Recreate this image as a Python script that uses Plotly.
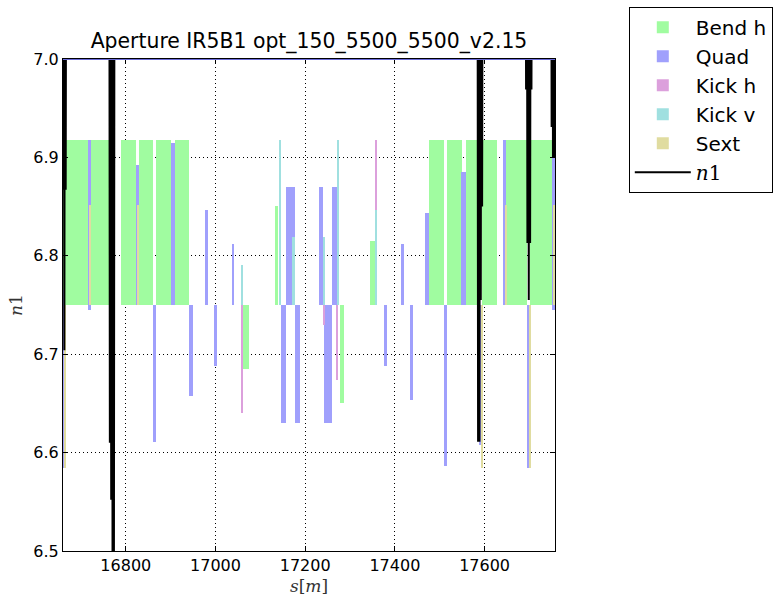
import plotly.graph_objects as go

# ---------------- data (s in metres, aperture levels) ----------------
bend_s0 = [16661, 16722, 16790, 16830, 16868, 16909, 17061, 17132, 17277, 17345, 17477, 17516, 17558, 17595, 17648, 17701]
bend_s1 = [16715, 16763, 16822, 16861, 16900, 16941, 17074, 17139, 17286, 17359, 17509, 17549, 17589, 17627, 17695, 17752]
bend_lo = [6.75, 6.75, 6.75, 6.75, 6.75, 6.75, 6.685, 6.75, 6.650, 6.75, 6.75, 6.75, 6.75, 6.75, 6.75, 6.75]
bend_hi = [6.918, 6.918, 6.918, 6.918, 6.918, 6.918, 6.75, 6.851, 6.75, 6.815, 6.918, 6.918, 6.918, 6.918, 6.918, 6.918]

quad_s0 = [16660, 16715, 16822, 16861, 16900, 16940, 16976, 16997, 17036, 17145, 17158, 17178, 17231,
           17243, 17260, 17376, 17413, 17433, 17468, 17509, 17548, 17588, 17641, 17695, 17750]
quad_s1 = [16665, 16722, 16830, 16868, 16909, 16950, 16983, 17004, 17041, 17158, 17177, 17188, 17240,
           17260, 17273, 17382, 17420, 17440, 17477, 17516, 17558, 17593, 17648, 17703, 17757]
quad_lo = [6.584, 6.745, 6.75, 6.611, 6.75, 6.658, 6.75, 6.688, 6.75, 6.63, 6.75, 6.63, 6.75,
           6.63, 6.75, 6.688, 6.75, 6.653, 6.75, 6.5865, 6.75, 6.608, 6.75, 6.584, 6.745]
quad_hi = [6.765, 6.918, 6.892, 6.75, 6.9145, 6.75, 6.847, 6.75, 6.812, 6.75, 6.870, 6.75, 6.870,
           6.75, 6.870, 6.75, 6.812, 6.75, 6.843, 6.75, 6.885, 6.75, 6.918, 6.75, 6.918]

kickh_s0 = [17058, 17240, 17269.5, 17355.5]
kickh_s1 = [17061.5, 17244.5, 17273.5, 17360.5]
kickh_lo = [6.64, 6.73, 6.674, 6.75]
kickh_hi = [6.75, 6.75, 6.75, 6.918]

kickv_s0 = [17057, 17141.5, 17171.5, 17240, 17271, 17355.5]
kickv_s1 = [17061.5, 17147, 17176.5, 17245, 17275.5, 17360.5]
kickv_lo = [6.75, 6.75, 6.75, 6.75, 6.75, 6.75]
kickv_hi = [6.791, 6.918, 6.8195, 6.8195, 6.918, 6.847]

sext_s0 = [16663, 16718.5, 16826, 17591, 17644.5, 17700, 17751.5]
sext_s1 = [16666, 16722, 16829.5, 17595.5, 17649, 17703.5, 17756]
sext_lo = [6.584, 6.75, 6.75, 6.584, 6.75, 6.584, 6.75]
sext_hi = [6.75, 6.852, 6.852, 6.75, 6.852, 6.75, 6.852]

n1_s = [16660, 16661.5, 16663, 16664.5, 16666, 16667.5, 16669,
        16763, 16764.5, 16766, 16767.5, 16769, 16770.5, 16772, 16773.5, 16775, 16776.5,
        17584, 17585.5, 17587, 17588.5, 17590, 17591.5, 17593, 17594.5, 17596,
        17691, 17692.5, 17694, 17695.5, 17697, 17698.5, 17700, 17701.5, 17703, 17704.5, 17706,
        17748, 17749.5, 17751, 17752.5, 17754, 17755.5, 17757]
n1_v = [6.867, 7.3, 6.704, 7.3, 6.867, 7.3, 7.3,
        7.3, 6.61, 7.3, 6.552, 7.3, 6.45, 7.3, 6.45, 7.3, 7.3,
        7.3, 6.611, 7.3, 6.611, 7.3, 6.755, 7.3, 6.85, 7.3,
        7.3, 6.969, 7.3, 6.813, 7.3, 6.755, 7.3, 6.813, 7.3, 6.969, 7.3,
        7.3, 6.931, 7.3, 6.9, 7.3, 6.9, 7.3]

x_range = [16660, 17757]
y_range = [6.5, 7.0]
title_text = "Aperture IR5B1 opt_150_5500_5500_v2.15"

# ---------------- figure ----------------
fig = go.Figure()


def add_bars(name, s0, s1, lo, hi, color):
    centers = [(a + b) / 2 for a, b in zip(s0, s1)]
    widths = [b - a for a, b in zip(s0, s1)]
    heights = [h - l for l, h in zip(lo, hi)]
    fig.add_trace(go.Bar(x=centers, y=heights, base=lo, width=widths, name=name,
                         marker=dict(color=color, line=dict(width=0)),
                         hoverinfo="skip"))


add_bars("Bend h", bend_s0, bend_s1, bend_lo, bend_hi, "#a0fca0")
add_bars("Quad", quad_s0, quad_s1, quad_lo, quad_hi, "#a0a0fc")
add_bars("Kick h", kickh_s0, kickh_s1, kickh_lo, kickh_hi, "#dca0dc")
add_bars("Kick v", kickv_s0, kickv_s1, kickv_lo, kickv_hi, "#a0e0e0")
add_bars("Sext", sext_s0, sext_s1, sext_lo, sext_hi, "#e0dca0")

fig.add_trace(go.Scatter(x=n1_s, y=n1_v, mode="lines",
                         name='<span style="font-family:\'DejaVu Serif\'"><i>n</i>1</span>',
                         line=dict(color="black", width=2, simplify=False),
                         hoverinfo="skip"))

# blue line along the top limit
fig.add_shape(type="line", xref="paper", x0=0, x1=1, yref="y", y0=y_range[1], y1=y_range[1],
              line=dict(color="#6a6ad8", width=2), layer="above")

axis_common = dict(showline=True, linecolor="black", linewidth=1, mirror="ticks",
                   ticks="inside", ticklen=5, tickcolor="black", automargin=False,
                   showgrid=True, gridcolor="black", gridwidth=1, griddash="1px,3px",
                   zeroline=False, tickfont=dict(family="DejaVu Sans", size=16, color="black"))

fig.update_xaxes(range=x_range, tick0=16800, dtick=200, tickformat="d", **axis_common,
                 title=dict(text="<i>s</i>[<i>m</i>]", standoff=12,
                            font=dict(family="DejaVu Serif", size=17, color="#333")))
fig.update_yaxes(range=y_range, dtick=0.1, tickformat=".1f", **axis_common,
                 title=dict(text="<i>n</i>1", standoff=6,
                            font=dict(family="DejaVu Serif", size=17, color="#333")))

fig.update_layout(
    width=773, height=596,
    margin=dict(l=63, r=218, t=59, b=45, autoexpand=False),
    paper_bgcolor="white", plot_bgcolor="white",
    barmode="overlay", bargap=0,
    font=dict(family="DejaVu Sans", color="black"),
    title=dict(text=title_text, x=0.5, xref="paper", xanchor="center",
               y=1 - 41 / 596, yref="container", yanchor="middle",
               font=dict(family="DejaVu Sans", size=20.4, color="black")),
    legend=dict(x=1.15, xanchor="left", y=1.106, yanchor="top",
                bgcolor="white", bordercolor="black", borderwidth=1,
                itemwidth=56,
                font=dict(family="DejaVu Sans", size=20, color="black"),
                traceorder="normal"),
    showlegend=True,
)

fig.write_html("out.html")
